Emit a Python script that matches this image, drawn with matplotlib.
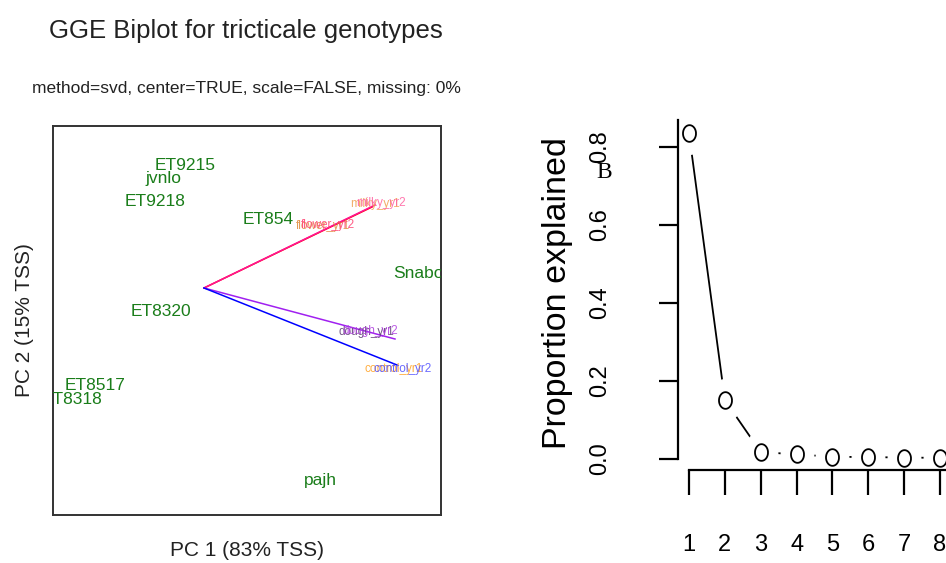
import matplotlib
matplotlib.use("Agg")
import matplotlib.pyplot as plt
from matplotlib.path import Path
import numpy as np

plt.rcParams["font.family"] = ["Liberation Sans", "DejaVu Sans"]

# ── Biplot data (PC1, PC2 scores, arbitrary units) ──
genotypes = ["ET9215", "jvnlo", "ET9218", "ET854", "Snabo",
             "ET8320", "ET8517", "ET8318", "pajh"]
gen_pc1 = [-0.19, -0.41, -0.49, 0.64, 2.14, -0.43, -1.09, -1.32, 1.16]
gen_pc2 = [1.22, 1.10, 0.87, 0.69, 0.14, -0.24, -0.97, -1.12, -1.92]

envs = ["flower_yr1", "flower_yr2", "milky_yr1", "milky_yr2",
        "dough_yr1", "dough_yr2", "control_yr1", "control_yr2"]
env_pc1 = [1.19, 1.24, 1.71, 1.77, 1.62, 1.66, 1.90, 1.99]
env_pc2 = [0.62, 0.63, 0.84, 0.85, -0.44, -0.43, -0.81, -0.81]
env_cols = ["#e08a3a", "#ff4070", "#f0a050", "#ff60a0",
            "#5a3a70", "#b040e0", "#ffa020", "#5050ff"]

vec_pc1 = [1.68, 1.71, 1.91, 1.93]
vec_pc2 = [0.81, 0.83, -0.51, -0.77]
vec_cols = ["#ff0000", "#ff1493", "#a020f0", "#0000ff"]

# ── Scree plot data ──
components = [1, 2, 3, 4, 5, 6, 7, 8]
prop_explained = [0.835, 0.151, 0.018, 0.012, 0.006, 0.005, 0.004, 0.003]

W, H = 946, 563
fig = plt.figure(figsize=(W / 100, H / 100), dpi=100)

# ─ Panel A: GGE biplot
ax = fig.add_axes([53 / W, 48 / H, 388 / W, 389 / H])
ax.set_xlim(-1.51, 2.37)
ax.set_ylim(-2.27, 1.62)
ax.set_xticks([]); ax.set_yticks([])
for s in ax.spines.values():
    s.set_linewidth(1.4); s.set_color("#333333")

for x, y, c in zip(vec_pc1, vec_pc2, vec_cols):
    ax.plot([0, x], [0, y], color=c, linewidth=1.1)
for lab, x, y, c in zip(envs, env_pc1, env_pc2, env_cols):
    ax.text(x, y, lab, color=c, fontsize=8.5, ha="center", va="center", alpha=0.85)
for lab, x, y in zip(genotypes, gen_pc1, gen_pc2):
    ax.text(x, y, lab, color="#1a7d1a", fontsize=12.5, ha="center", va="center",
            clip_on=True)

fig.text(0.26, 1 - 31 / H, "GGE Biplot for tricticale genotypes",
         fontsize=18.5, ha="center", va="center", color="#222222")
fig.text(0.26, 1 - 88 / H, "method=svd, center=TRUE, scale=FALSE, missing: 0%",
         fontsize=12.5, ha="center", va="center", color="#222222")
fig.text(247 / W, 1 - 550 / H, "PC 1 (83% TSS)", fontsize=15,
         ha="center", va="center", color="#222222")
fig.text(25 / W, 1 - 320 / H, "PC 2 (15% TSS)", fontsize=15, rotation=90,
         ha="center", va="center", color="#222222")

# ─ Panel B: scree plot (R type="b")
ax2 = fig.add_axes([678 / W, 93 / H, 268 / W, 350 / H])
ax2.set_xlim(0.693, 8.167)
ax2.set_ylim(-0.028, 0.869)
for side in ["top", "right"]:
    ax2.spines[side].set_visible(False)
ax2.spines["left"].set_bounds(0, 0.869)
ax2.spines["bottom"].set_bounds(1, 8.167)
for s in ["left", "bottom"]:
    ax2.spines[s].set_linewidth(1.6)
    ax2.spines[s].set_zorder(2.5)

t = np.linspace(0, 2 * np.pi, 60)
ellipse = Path(np.column_stack([np.cos(t) * 0.78, np.sin(t)]))

ax2.plot(components, prop_explained, color="black", linewidth=1.3, zorder=2)
ax2.plot(components, prop_explained, linestyle="none", marker=ellipse,
         markersize=30, markerfacecolor="white", markeredgecolor="white", zorder=2.1)
ax2.plot(components, prop_explained, linestyle="none", marker=ellipse,
         markersize=12, markerfacecolor="white", markeredgecolor="black",
         markeredgewidth=1.3, zorder=3, clip_on=False)

ax2.set_xticks(components)
ax2.set_yticks([0.0, 0.2, 0.4, 0.6, 0.8])
ax2.set_yticklabels(["0.0", "0.2", "0.4", "0.6", "0.8"])
ax2.tick_params(axis="x", length=18, width=1.6, pad=28, labelsize=17)
ax2.tick_params(axis="y", length=14, width=1.6, pad=34, labelsize=17,
                labelrotation=90)
for lbl in ax2.get_yticklabels():
    lbl.set_va("center")

fig.text(557 / W, 1 - 293 / H, "Proportion explained", fontsize=24.5,
         rotation=90, ha="center", va="center")
fig.text(604 / W, 1 - 172 / H, "B", fontsize=17, ha="center", va="center",
         family=["Liberation Serif", "DejaVu Serif"])

fig.savefig("out.png", dpi=100)
